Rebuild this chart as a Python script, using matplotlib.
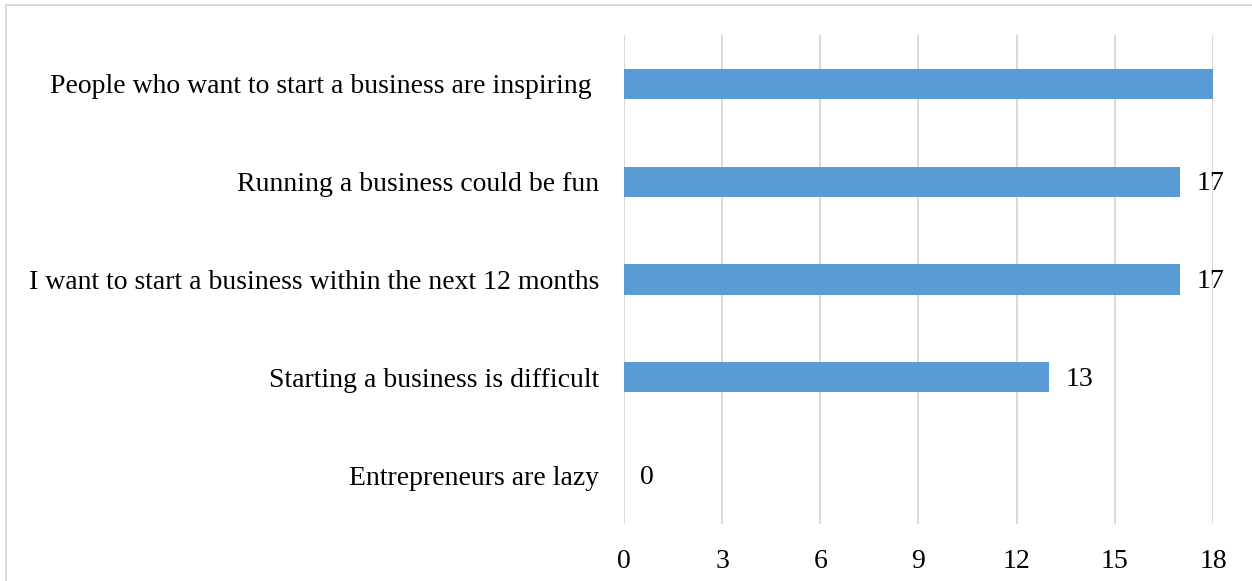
import matplotlib.pyplot as plt
from matplotlib.patches import Rectangle

# Survey statements and number of respondents who agreed
statements = ['Entrepreneurs are lazy',
              'Starting a business is difficult',
              'I want to start a business within the next 12 months',
              'Running a business could be fun',
              'People who want to start a business are inspiring ']
counts = [0, 13, 17, 17, 18]
shown_labels = [True, True, True, True, False]
x_ticks = [0, 3, 6, 9, 12, 15, 18]

bar_color = '#5b9bd5'
grid_color = '#d9d9d9'

plt.rcParams['font.family'] = ['Liberation Serif', 'DejaVu Serif']

fig = plt.figure(figsize=(12.52, 5.81), dpi=100)
ax = fig.add_axes([624 / 1252, 57 / 581, 589 / 1252, 489 / 581])

ypos = list(range(len(statements)))
ax.barh(ypos, counts, height=0.31, color=bar_color, zorder=2)

for y, c, show in zip(ypos, counts, shown_labels):
    if show:
        ax.text(c + 0.5, y - 0.02, str(c), va='center', ha='left', fontsize=20)

ax.set_xlim(0, 18)
ax.set_ylim(-0.5, 4.5)
ax.set_xticks(x_ticks)
ax.set_yticks(ypos)
ax.set_yticklabels(statements)
ax.xaxis.grid(True, color=grid_color, linewidth=1.4, zorder=0)
ax.set_axisbelow(True)
for s in ax.spines.values():
    s.set_visible(False)
ax.tick_params(axis='both', length=0, labelsize=20)
ax.tick_params(axis='y', pad=18)
ax.tick_params(axis='x', pad=18)

# chart area border
fig.patches.append(Rectangle((6 / 1252, -0.1), 1.2, 1 - 5 / 581 + 0.1,
                             transform=fig.transFigure, fill=False,
                             edgecolor=grid_color, linewidth=1.4))

fig.savefig('out.png', dpi=100)
